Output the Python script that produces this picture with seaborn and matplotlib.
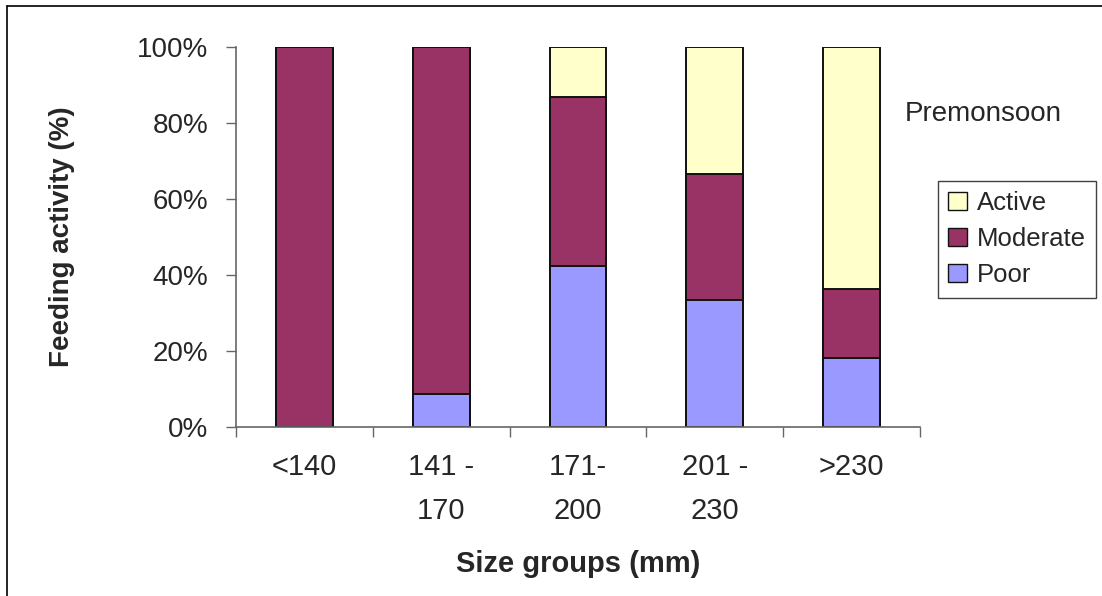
import matplotlib
matplotlib.use("Agg")
import matplotlib.pyplot as plt
import seaborn as sns
import numpy as np
import pandas as pd
from matplotlib.patches import Patch
from matplotlib.lines import Line2D
from matplotlib.ticker import PercentFormatter

categories = ["<140", "141 -\n170", "171-\n200", "201 -\n230", ">230"]
poor = [0.0, 8.7, 42.4, 33.3, 18.2]
moderate = [100.0, 91.3, 44.4, 33.4, 18.2]
active = [0.0, 0.0, 13.2, 33.3, 63.6]

series_names = ["Active", "Moderate", "Poor"]
colors = {"Active": "#FFFFCC", "Moderate": "#993366", "Poor": "#9999FF"}

sns.set_theme(style="white")
plt.rcParams["font.family"] = ["Liberation Sans", "DejaVu Sans"]

W, H = 1102, 596
fig = plt.figure(figsize=(W / 100, H / 100), dpi=100)
ax = fig.add_axes([236 / W, 1 - 427 / H, (920 - 236) / W, (427 - 47) / H])

p = np.array(poor)
m = np.array(moderate)
a = np.array(active)
layers = [("Active", p + m + a), ("Moderate", p + m), ("Poor", p)]
for name, vals in layers:
    df = pd.DataFrame({"group": categories, "value": vals})
    sns.barplot(data=df, x="group", y="value", order=categories, color=colors[name],
                width=0.415, edgecolor="#111111", linewidth=1.4, saturation=1, ax=ax,
                errorbar=None)

ax.set_ylim(0, 100)
ax.set_xlim(-0.5, 4.5)
ax.yaxis.set_major_formatter(PercentFormatter(decimals=0))
ax.set_yticks([0, 20, 40, 60, 80, 100])
ax.set_xticks(range(5))
ax.set_xticklabels(categories, fontsize=21, linespacing=1.7)
ax.set_xticks(np.arange(-0.5, 5.0, 1.0), minor=True)
ax.tick_params(axis="x", which="major", length=0, pad=19)
ax.tick_params(axis="x", which="minor", length=7, width=1, color="#666666", direction="out", bottom=True)
ax.tick_params(axis="y", which="major", length=7, width=1, color="#666666", direction="out", left=True,
               labelsize=20, pad=13)

for s in ["top", "right"]:
    ax.spines[s].set_visible(False)
for s in ["left", "bottom"]:
    ax.spines[s].set_color("#666666")
    ax.spines[s].set_linewidth(1.2)

ax.set_xlabel("Size groups (mm)", fontsize=21, fontweight="bold")
ax.xaxis.set_label_coords(0.5, -0.325)
ax.set_ylabel("Feeding activity (%)", fontsize=20, fontweight="bold")
ax.yaxis.set_label_coords(-0.236, 0.5)

handles = [Patch(facecolor=colors[n], edgecolor="#111111", linewidth=1) for n in series_names]
leg = fig.legend(handles, series_names, loc="upper left", bbox_to_anchor=(938 / W, 1 - 181 / H),
                 fontsize=18.5, frameon=True, fancybox=False, handlelength=0.72, handleheight=0.7,
                 handletextpad=0.4, borderpad=0.4, labelspacing=0.47, borderaxespad=0)
leg.get_frame().set_edgecolor("#111111")
leg.get_frame().set_linewidth(1)

fig.text(905 / W, 1 - 121 / H, "Premonsoon", fontsize=20, ha="left", va="baseline")

fig.add_artist(Line2D([7 / W, 7 / W], [0, 1 - 6 / H], transform=fig.transFigure, color="black", linewidth=1.2))
fig.add_artist(Line2D([7 / W, 1], [1 - 6 / H, 1 - 6 / H], transform=fig.transFigure, color="black", linewidth=1.2))

fig.savefig("out.png", dpi=100)
